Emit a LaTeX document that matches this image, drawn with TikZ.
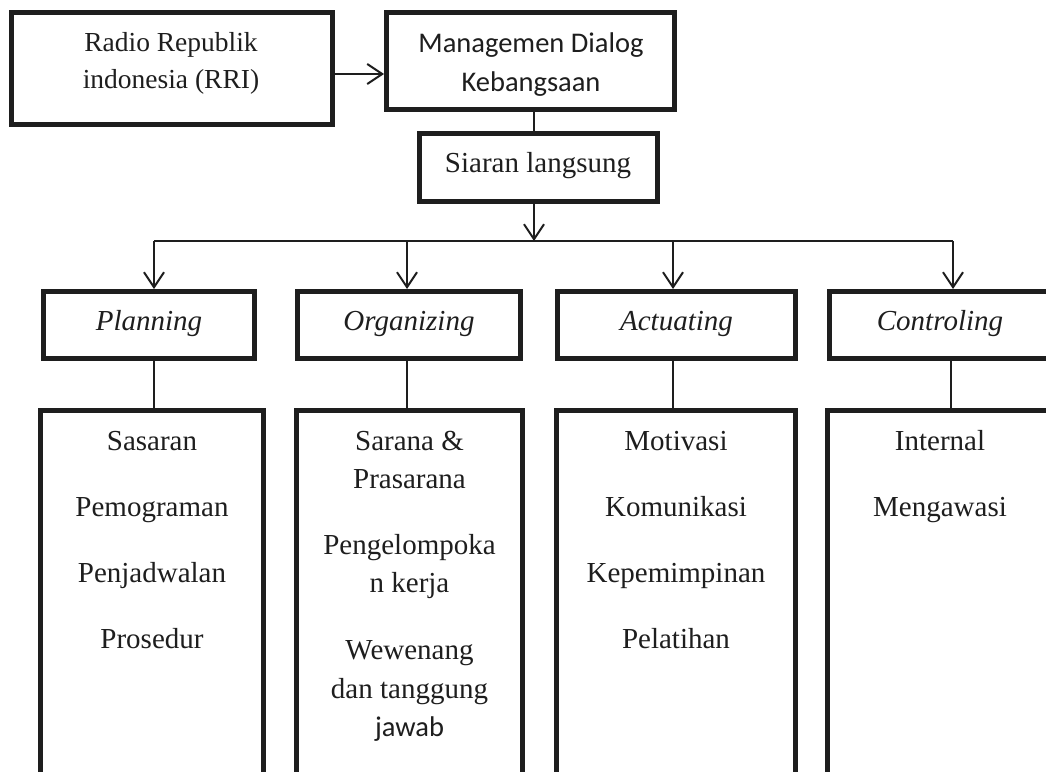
\documentclass[tikz,border=0pt]{standalone}
\usepackage{fontspec}
\setmainfont{Liberation Serif}
\newfontfamily\calib{Carlito}
\usetikzlibrary{arrows.meta}
\definecolor{ink}{HTML}{1E1E1E}
\begin{document}
\begin{tikzpicture}[x=1pt,y=-1pt,
  box/.style={draw=ink, line width=5pt, inner sep=0pt, fill=white},
  ln/.style={draw=ink, line width=2pt},
  arr/.style={ln, -{Straight Barb[length=15pt,width=20pt]}},
  tx/.style={anchor=base, text=ink, inner sep=0pt, font=\fontsize{29}{29}\selectfont},
  tsm/.style={tx, font=\fontsize{27.5}{27.5}\selectfont},
  cx/.style={anchor=base, text=ink, inner sep=0pt, font=\calib\fontsize{28.5}{28.5}\selectfont},
  it/.style={tx, font=\itshape\fontsize{29}{29}\selectfont}]
\useasboundingbox (0,0) rectangle (1046,771);
\clip (0,0) rectangle (1046,771);
\fill[white] (0,0) rectangle (1046,771);
% top boxes
\node[box, minimum width=321pt, minimum height=112pt] (rri) at (172,68.5) {};
\node[box, minimum width=288pt, minimum height=97pt] (mgmt) at (530.5,61) {};
\node[box, minimum width=238pt, minimum height=68pt] (siaran) at (538.5,167.5) {};
% category boxes
\node[box, minimum width=211pt, minimum height=67pt] (plan) at (149,325) {};
\node[box, minimum width=223pt, minimum height=67pt] (org) at (409,325) {};
\node[box, minimum width=238pt, minimum height=67pt] (act) at (676.5,325) {};
\node[box, minimum width=223pt, minimum height=67pt] (ctrl) at (941,325) {};
% detail boxes
\node[box, minimum width=223pt, minimum height=407pt] (planB) at (152,614) {};
\node[box, minimum width=226pt, minimum height=407pt] (orgB) at (409.5,614) {};
\node[box, minimum width=239pt, minimum height=407pt] (actB) at (676,614) {};
\node[box, minimum width=225pt, minimum height=407pt] (ctrlB) at (940,614) {};
% texts
\node[tsm] (t-rri1) at (171,51) {Radio Republik};
\node[tsm] (t-rri2) at (171,88) {indonesia (RRI)};
\node[cx] (t-m1) at (531,52) {Managemen Dialog};
\node[cx] (t-m2) at (531,91) {Kebangsaan};
\node[tx] (t-s) at (538,172) {Siaran langsung};
\node[it] (t-plan) at (149,330) {Planning};
\node[it] (t-org) at (409,330) {Organizing};
\node[it] (t-act) at (676.5,330) {Actuating};
\node[it] (t-ctrl) at (940,330) {Controling};
\node[tx] (p1) at (152,450) {Sasaran};
\node[tx] (p2) at (152,516) {Pemograman};
\node[tx] (p3) at (152,582) {Penjadwalan};
\node[tx] (p4) at (152,648) {Prosedur};
\node[tx] (o1) at (409.5,450) {Sarana \&};
\node[tx] (o2) at (409.5,488) {Prasarana};
\node[tx] (o3) at (409.5,554) {Pengelompoka};
\node[tx] (o4) at (409.5,592) {n kerja};
\node[tx] (o5) at (409.5,659) {Wewenang};
\node[tx] (o6) at (409.5,698) {dan tanggung};
\node[cx] (o7) at (409.5,736) {jawab};
\node[tx] (a1) at (676,450) {Motivasi};
\node[tx] (a2) at (676,516) {Komunikasi};
\node[tx] (a3) at (676,582) {Kepemimpinan};
\node[tx] (a4) at (676,648) {Pelatihan};
\node[tx] (c1) at (940,450) {Internal};
\node[tx] (c2) at (940,516) {Mengawasi};
% connectors
\draw[arr] ([yshift=-5.5pt]rri.east) -- ([yshift=-5.5pt]rri.east -| mgmt.west);
\coordinate (bx) at (534,241);
\coordinate (d1) at (154,241);
\coordinate (d2) at (407,241);
\coordinate (d3) at (673,241);
\coordinate (d4) at (953,241);
\draw[ln] (mgmt.south -| bx) -- (siaran.north -| bx);
\draw[arr] (siaran.south -| bx) -- (bx);
\draw[ln] (d1) -- (d4);
\draw[arr] (d1) -- (d1 |- plan.north);
\draw[arr] (d2) -- (d2 |- org.north);
\draw[arr] (d3) -- (d3 |- act.north);
\draw[arr] (d4) -- (d4 |- ctrl.north);
\draw[ln] (d1 |- plan.south) -- (d1 |- planB.north);
\draw[ln] (d2 |- org.south) -- (d2 |- orgB.north);
\draw[ln] (d3 |- act.south) -- (d3 |- actB.north);
\draw[ln] (951,0 |- ctrl.south) -- (951,0 |- ctrlB.north);
\end{tikzpicture}
\end{document}
